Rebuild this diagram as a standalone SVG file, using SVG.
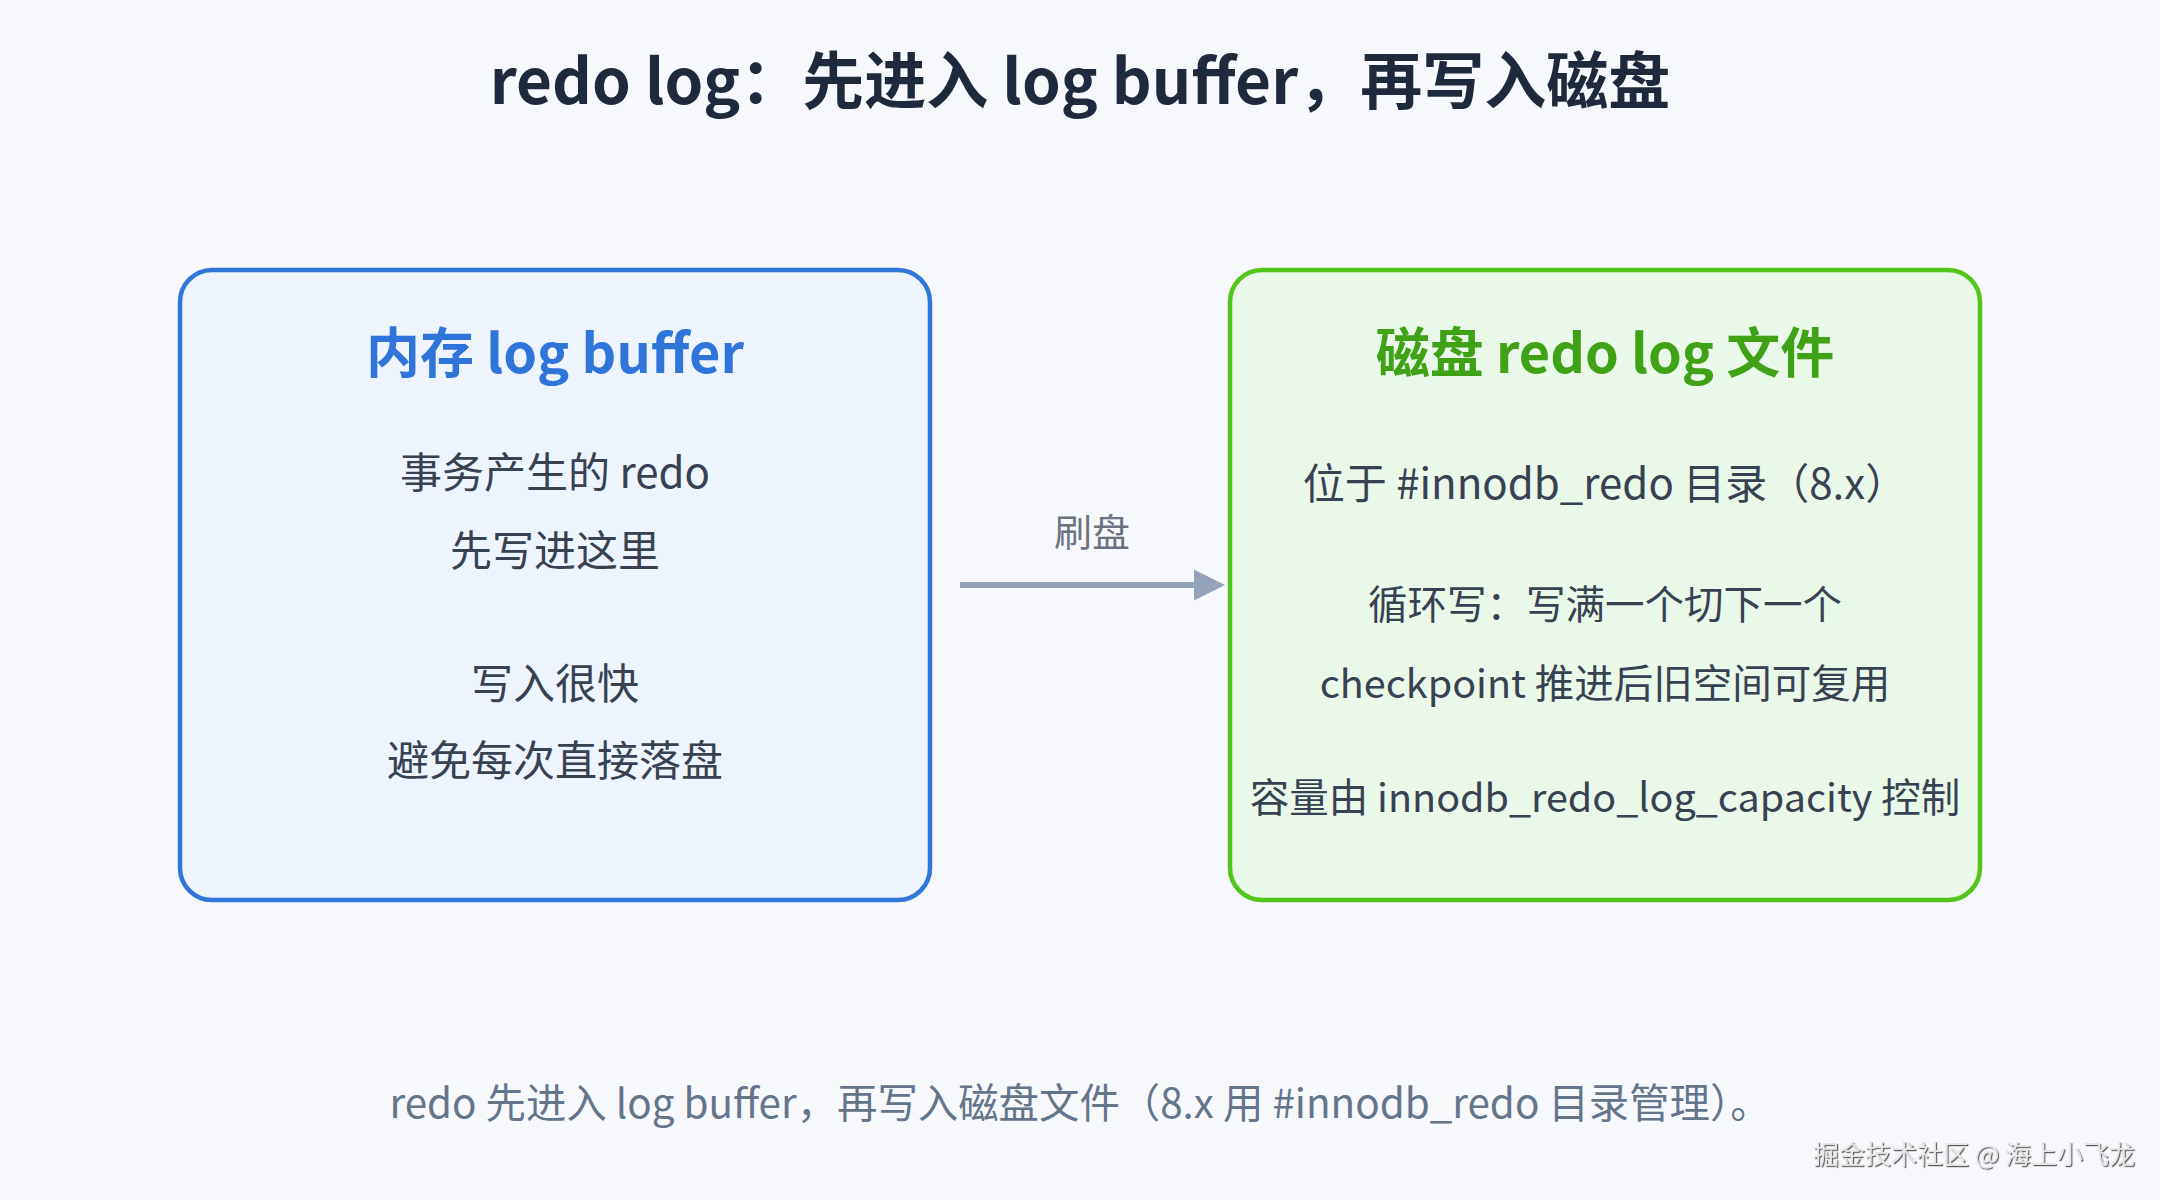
<svg xmlns="http://www.w3.org/2000/svg" width="2160" height="1200" viewBox="0 0 2160 1200">
  <style>
    text { font-family: "Noto Sans CJK SC", "Noto Sans", sans-serif; text-anchor: middle; }
    .title { font-size: 62px; font-weight: 700; fill: #1e293b; }
    .ntitle { font-size: 54px; font-weight: 700; }
    .body { font-size: 42px; fill: #374151; }
    .body2 { font-size: 39.5px; fill: #374151; }
    .label { font-size: 38px; fill: #6b7280; }
    .foot { font-size: 40.4px; fill: #64748b; }
    .mark { font-size: 26px; fill: #e6e6e6; }
    .box { stroke-width: 4.5; }
  </style>
  <defs>
    <marker id="arrow" viewBox="0 0 10 10" refX="0" refY="5" markerWidth="5.2" markerHeight="5.6" markerUnits="strokeWidth" orient="auto">
      <path d="M0,0 L10,5 L0,10 Z" fill="#94a3b8"/>
    </marker>
    <filter id="emboss" x="-5%" y="-20%" width="110%" height="150%">
      <feDropShadow dx="1.2" dy="1.2" stdDeviation="0.6" flood-color="#4b4b4b" flood-opacity="0.9"/>
    </filter>
  </defs>
  <rect x="0" y="0" width="2160" height="1200" fill="#f6f8fc"/>
  <text class="title" x="1080" y="104">redo log：先进入 log buffer，再写入磁盘</text>

  <g id="node-buffer">
    <rect class="box" x="180" y="270" width="750" height="630" rx="32" fill="#eef4fe" stroke="#3176d9"/>
    <text class="ntitle" x="555" y="373" fill="#2f74d9">内存 log buffer</text>
    <text class="body" x="555" y="488">事务产生的 redo</text>
    <text class="body" x="555" y="566">先写进这里</text>
    <text class="body" x="555" y="699">写入很快</text>
    <text class="body" x="555" y="776">避免每次直接落盘</text>
  </g>

  <g id="node-disk">
    <rect class="box" x="1230" y="270" width="750" height="630" rx="32" fill="#e9f8e8" stroke="#52c41a"/>
    <text class="ntitle" x="1605" y="373" fill="#3fa116">磁盘 redo log 文件</text>
    <text class="body" x="1605" y="499">位于 #innodb_redo 目录（8.x）</text>
    <text class="body2" x="1605" y="619">循环写：写满一个切下一个</text>
    <text class="body2" x="1605" y="698">checkpoint 推进后旧空间可复用</text>
    <text class="body2" x="1605" y="812">容量由 innodb_redo_log_capacity 控制</text>
  </g>

  <g id="connectors">
    <line x1="960" y1="585" x2="1194" y2="585" stroke="#94a3b8" stroke-width="6" marker-end="url(#arrow)"/>
    <text class="label" x="1092" y="546">刷盘</text>
  </g>

  <text class="foot" x="1080" y="1118">redo 先进入 log buffer，再写入磁盘文件（8.x 用 #innodb_redo 目录管理）。</text>
  <text class="mark" x="1974" y="1164" filter="url(#emboss)">掘金技术社区 @ 海上小飞龙</text>
</svg>
